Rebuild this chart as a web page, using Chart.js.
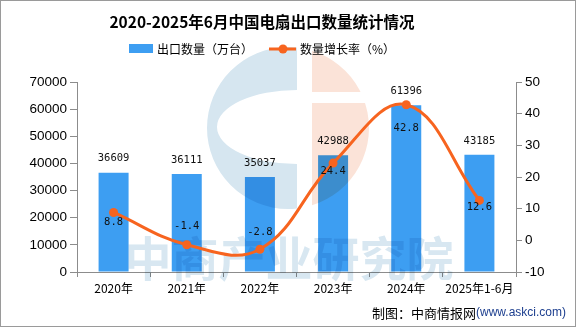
<!DOCTYPE html>
<html>
<head>
<meta charset="utf-8">
<script src="https://cdn.jsdelivr.net/npm/chart.js@4.4.1/dist/chart.umd.min.js"></script>
<style>
  html, body { margin: 0; padding: 0; background: #fff; }
  canvas { display: block; }
</style>
</head>
<body>
<canvas id="grafico" width="576" height="327"></canvas>
<script>
// 出口数量（万台）与数量增长率（%）
const years = ['2020年', '2021年', '2022年', '2023年', '2024年', '2025年1-6月'];
const exportQty = [36609, 36111, 35037, 42988, 61396, 43185];
const growthRate = [8.8, -1.4, -2.8, 24.4, 42.8, 12.6];
const qtyTicks = [0, 10000, 20000, 30000, 40000, 50000, 60000, 70000];
const rateTicks = [-10, 0, 10, 20, 30, 40, 50];

// 增长率标签相对数据点的垂直偏移
const rateLabelShift = [10, -19, -17, 8, 23, 7];

const corBarra = '#3d9ef2';
const corLinha = '#f7641f';
const corEixo = '#8c8c8c';
const cjk = '"Noto Sans CJK SC", "Liberation Sans", sans-serif';

// 背景水印：圆形标志 + 文字
const marcaDagua = {
    id: 'marcaDagua',
    afterDatasetDraw(chart, args) {
        if (args.index !== 1) return;
        const ctx = chart.ctx;
        ctx.save();
        ctx.globalCompositeOperation = 'multiply';
        const cx = 288, cy = 128, r = 81;
        // 左侧蓝色 C 形
        ctx.save();
        ctx.beginPath();
        ctx.rect(0, 0, 297, 327);
        ctx.clip();
        ctx.beginPath();
        ctx.arc(cx, cy, r, 0, Math.PI * 2);
        ctx.ellipse(297, 127, 80, 37, 0, 0, Math.PI * 2, true);
        ctx.fillStyle = '#d6e6f0';
        ctx.fill('evenodd');
        ctx.restore();
        // 右侧橙色部分
        ctx.save();
        ctx.beginPath();
        ctx.rect(312, 0, 100, 92);
        ctx.rect(312, 103, 100, 200);
        ctx.clip();
        ctx.beginPath();
        ctx.arc(cx, cy, r, 0, Math.PI * 2);
        ctx.fillStyle = '#fbe3d8';
        ctx.fill();
        ctx.restore();
        // 文字
        ctx.font = 'bold 47px ' + cjk;
        ctx.fillStyle = '#d8e7f1';
        ctx.textAlign = 'center';
        ctx.textBaseline = 'middle';
        ctx.fillText('中商产业研究院', 289, 258);
        ctx.restore();
    }
};

// 数值标签、标题、图例、来源
const rotulos = {
    id: 'rotulos',
    afterDatasetsDraw(chart) {
        const ctx = chart.ctx;
        ctx.save();
        ctx.font = '10.5px "DejaVu Sans Mono", monospace';
        ctx.fillStyle = '#111';
        ctx.textAlign = 'center';
        ctx.textBaseline = 'middle';
        chart.getDatasetMeta(1).data.forEach((bar, i) => {
            ctx.fillText(String(exportQty[i]), bar.x, bar.y - 14);
        });
        chart.getDatasetMeta(0).data.forEach((pt, i) => {
            ctx.fillText(growthRate[i].toFixed(1), pt.x, pt.y + rateLabelShift[i]);
        });
        ctx.restore();
    },
    afterDraw(chart) {
        const ctx = chart.ctx;
        ctx.save();
        // 标题
        ctx.fillStyle = '#000';
        ctx.textAlign = 'center';
        ctx.textBaseline = 'middle';
        ctx.font = 'bold 15.5px ' + cjk;
        ctx.fillText('2020-2025年6月中国电扇出口数量统计情况', 262, 22);
        // 图例
        ctx.font = '12px ' + cjk;
        ctx.textAlign = 'left';
        ctx.fillStyle = corBarra;
        ctx.fillRect(129, 44, 24, 9);
        ctx.fillStyle = '#000';
        ctx.fillText('出口数量（万台）', 157, 49);
        ctx.strokeStyle = corLinha;
        ctx.lineWidth = 3;
        ctx.beginPath();
        ctx.moveTo(269, 49);
        ctx.lineTo(296, 49);
        ctx.stroke();
        ctx.fillStyle = corLinha;
        ctx.beginPath();
        ctx.arc(283, 49, 4.5, 0, Math.PI * 2);
        ctx.fill();
        ctx.fillStyle = '#000';
        ctx.fillText('数量增长率（%）', 300, 49);
        // 来源
        ctx.textAlign = 'right';
        ctx.font = '12px "Liberation Sans", sans-serif';
        ctx.fillStyle = '#1d3f8f';
        const url = '(www.askci.com)';
        ctx.fillText(url, 566, 313);
        const w = ctx.measureText(url).width;
        ctx.font = '13px ' + cjk;
        ctx.fillStyle = '#000';
        ctx.fillText('制图：中商情报网', 566 - w, 313);
        // 外框
        ctx.strokeStyle = '#9a9a9a';
        ctx.lineWidth = 1;
        ctx.strokeRect(0.5, 0.5, 575, 326);
        ctx.restore();
    }
};

const config = {
    type: 'bar',
    data: {
        labels: years,
        datasets: [
            {
                type: 'line',
                label: '数量增长率（%）',
                data: growthRate,
                yAxisID: 'y1',
                borderColor: corLinha,
                backgroundColor: corLinha,
                borderWidth: 3,
                tension: 0.4,
                pointRadius: 4.5,
                pointBackgroundColor: corLinha,
                pointBorderWidth: 0,
                fill: false
            },
            {
                type: 'bar',
                label: '出口数量（万台）',
                data: exportQty,
                yAxisID: 'y',
                backgroundColor: corBarra,
                categoryPercentage: 1,
                barPercentage: 0.41
            }
        ]
    },
    options: {
        responsive: false,
        animation: false,
        layout: { padding: { top: 82, left: 0, right: 0, bottom: 0 } },
        plugins: {
            legend: { display: false },
            title: { display: false },
            tooltip: { enabled: false }
        },
        scales: {
            x: {
                grid: { display: true, drawOnChartArea: false, tickLength: 5, color: corEixo },
                border: { color: corEixo },
                ticks: {
                    color: '#000',
                    padding: 4,
                    maxRotation: 0,
                    autoSkip: false,
                    font: { size: 12, family: cjk }
                },
                afterFit(scale) { scale.height = 55; }
            },
            y: {
                position: 'left',
                min: 0,
                max: 70000,
                afterBuildTicks(scale) { scale.ticks = qtyTicks.map(v => ({ value: v })); },
                grid: { display: true, drawOnChartArea: false, tickLength: 7, color: corEixo },
                border: { color: corEixo },
                ticks: {
                    color: '#000',
                    padding: 3,
                    callback: v => String(v),
                    font: { size: 13.5, family: '"Liberation Sans", sans-serif' }
                },
                afterFit(scale) { scale.width = 77; }
            },
            y1: {
                position: 'right',
                min: -10,
                max: 50,
                afterBuildTicks(scale) { scale.ticks = rateTicks.map(v => ({ value: v })); },
                grid: { display: true, drawOnChartArea: false, tickLength: 6, color: corEixo },
                border: { color: corEixo },
                ticks: {
                    color: '#000',
                    padding: 3,
                    callback: v => String(v),
                    font: { size: 13.5, family: '"Liberation Sans", sans-serif' }
                },
                afterFit(scale) { scale.width = 60; }
            }
        }
    },
    plugins: [marcaDagua, rotulos]
};

const ctx = document.getElementById('grafico').getContext('2d');
new Chart(ctx, config);
</script>
</body>
</html>
